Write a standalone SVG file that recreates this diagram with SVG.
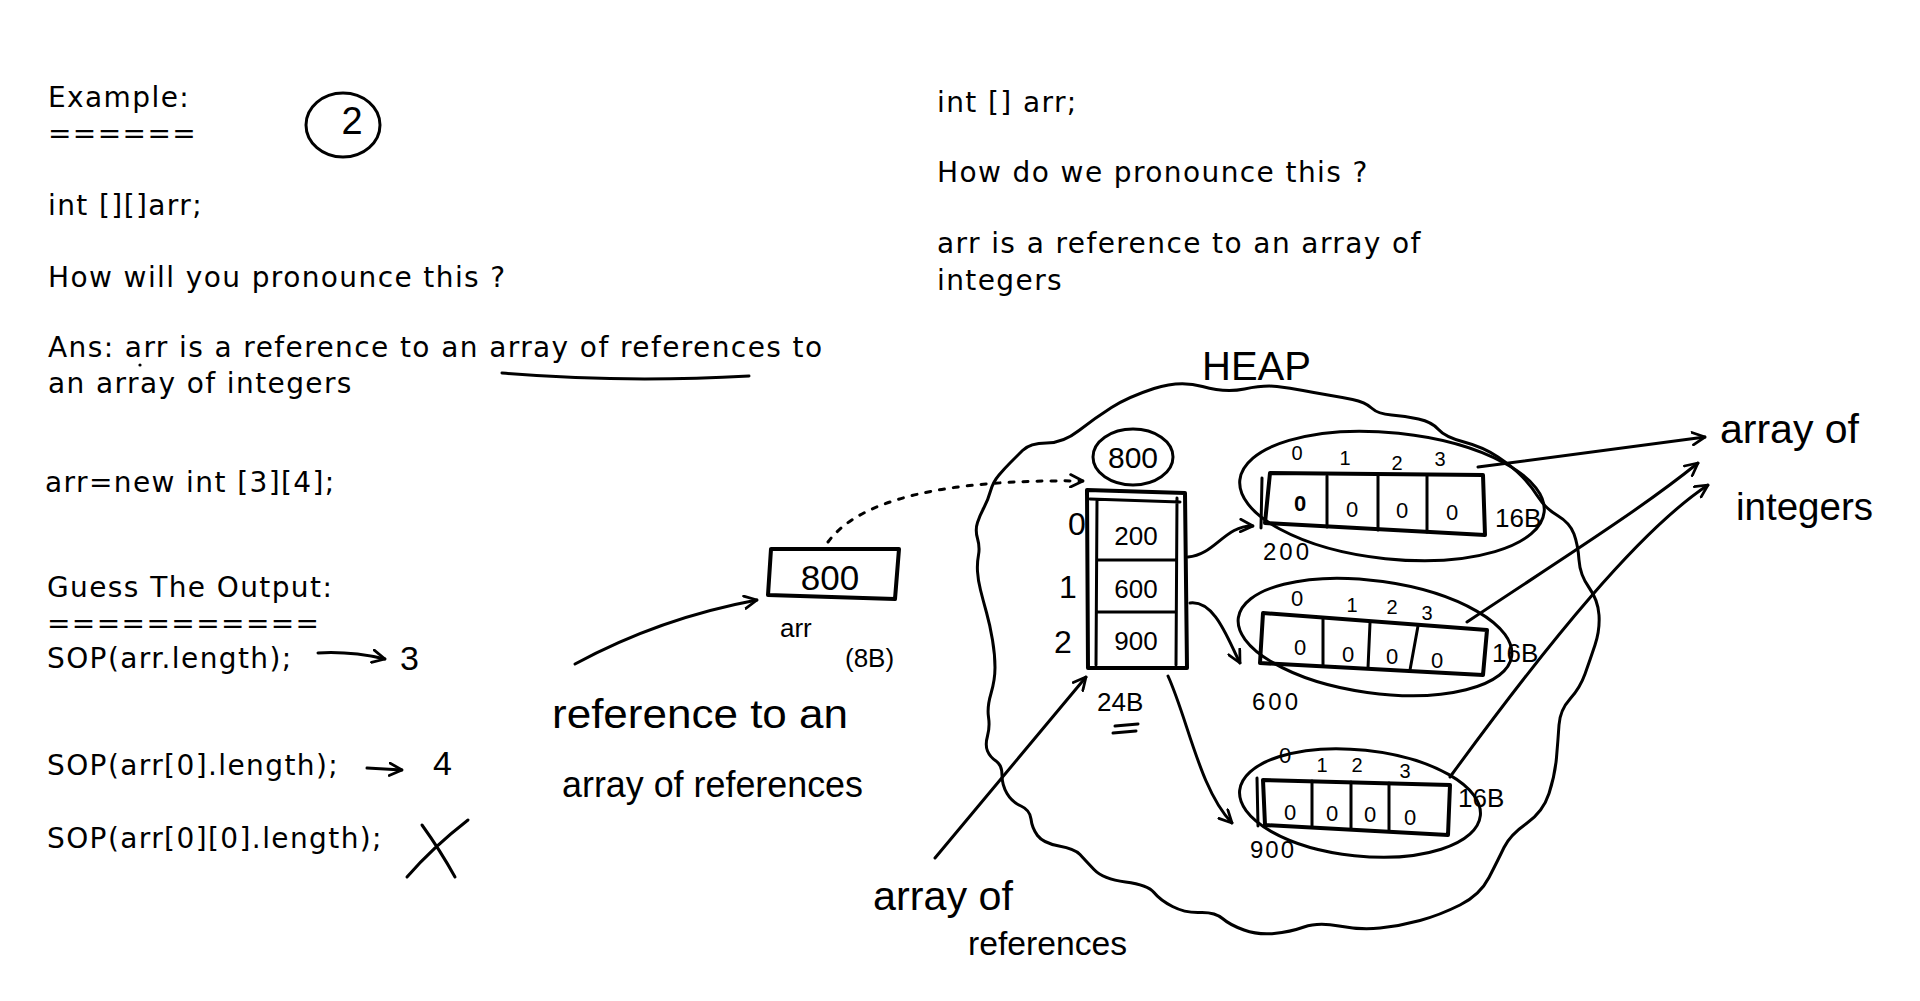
<svg xmlns="http://www.w3.org/2000/svg" width="1920" height="1001" viewBox="0 0 1920 1001">
<style>
.t{font-family:"DejaVu Sans",sans-serif;font-size:28px;letter-spacing:1.4px;fill:#000}
.hw{font-family:"Liberation Sans",sans-serif;fill:#000}
.ln{fill:none;stroke:#000;stroke-width:3;stroke-linecap:round;stroke-linejoin:round}
.bx{fill:none;stroke:#000;stroke-width:4;stroke-linejoin:round}
.ar{fill:none;stroke:#000;stroke-width:3;stroke-linecap:round;marker-end:url(#ah)}
</style>
<defs>
<marker id="ah" viewBox="0 0 12 12" refX="11" refY="6" markerWidth="15" markerHeight="15" markerUnits="userSpaceOnUse" orient="auto">
<path d="M1,1 L11,6 L1,11" fill="none" stroke="#000" stroke-width="2.2" stroke-linecap="round" stroke-linejoin="round"/>
</marker>
</defs>
<rect width="1920" height="1001" fill="#fff"/>

<g id="left-text">
<text class="t" x="48" y="107">Example:</text>
<text class="t" x="48" y="143">======</text>
<text class="t" x="48" y="215">int [][]arr;</text>
<text class="t" x="48" y="287">How will you pronounce this ?</text>
<text class="t" x="48" y="357">Ans: arr is a reference to an array of references to</text>
<text class="t" x="48" y="393">an array of integers</text>
<text class="t" x="45" y="492">arr=new int [3][4];</text>
<text class="t" x="47" y="597">Guess The Output:</text>
<text class="t" x="47" y="633">===========</text>
<text class="t" x="47" y="668">SOP(arr.length);</text>
<text class="t" x="47" y="775">SOP(arr[0].length);</text>
<text class="t" x="47" y="848">SOP(arr[0][0].length);</text>
</g>

<g id="right-text">
<text class="t" x="937" y="112">int [] arr;</text>
<text class="t" x="937" y="182">How do we pronounce this ?</text>
<text class="t" x="937" y="253">arr is a reference to an array of</text>
<text class="t" x="937" y="290">integers</text>
</g>

<g id="annotations">
<ellipse class="ln" cx="343" cy="125" rx="37" ry="32"/>
<text class="hw" x="352" y="134" font-size="38" text-anchor="middle">2</text>
<path class="ln" d="M502,373 Q620,383 749,376"/>
<circle cx="140" cy="365" r="1.6" fill="#000"/>
<text class="hw" x="400" y="670" font-size="34">3</text>
<text class="hw" x="433" y="775" font-size="34">4</text>
<path class="ln" d="M422,825 Q440,850 455,877 M468,820 Q432,848 407,877"/>
</g>

<g id="heap">
<path class="ln" d="M1022.5,450.5 Q1030,443 1046.5,443 Q1063,443 1079,430.5 Q1095,418 1111.5,407.5 Q1128,397 1154,388.5 Q1180,380 1202.5,386.5 Q1225,393 1244.5,389 Q1264,385 1277,386.5 Q1290,388 1303,390.5 Q1316,393 1328,395 Q1340,397 1352.5,399.5 Q1365,402 1371.5,408 Q1378,414 1391.5,415 Q1405,416 1418.5,419 Q1432,422 1438.5,429.5 Q1445,437 1464,442 Q1483,447 1498,457 Q1513,467 1522.5,477 Q1532,487 1538.5,497.5 Q1545,508 1557.5,515.5 Q1570,523 1574,534 Q1578,545 1579,560 Q1580,575 1589,587.5 Q1598,600 1599,615 Q1600,630 1595,645 Q1590,660 1585,674 Q1580,688 1570,699 Q1560,710 1559,725 Q1558,740 1556.5,757.5 Q1555,775 1549,793.5 Q1543,812 1526.5,823.5 Q1510,835 1504,847.5 Q1498,860 1489,877.5 Q1480,895 1460,905 Q1440,915 1420,920.5 Q1400,926 1380,928 Q1360,930 1339,926 Q1318,922 1304,927 Q1290,932 1274,933.5 Q1258,935 1244,930 Q1230,925 1222.5,918.5 Q1215,912 1200,912.5 Q1185,913 1172.5,906.5 Q1160,900 1154,892.5 Q1148,885 1125.5,882 Q1103,879 1094,869.5 Q1085,860 1080,854.5 Q1075,849 1059,846 Q1043,843 1037.5,835.5 Q1032,828 1031,819 Q1030,810 1021,806 Q1012,802 1007,793.5 Q1002,785 1002,775 Q1002,765 996,761 Q990,757 987.5,751 Q985,745 987.5,736 Q990,727 988.5,717 Q987,707 991,693.5 Q995,680 995,667.5 Q995,655 992.5,640 Q990,625 986.5,612.5 Q983,600 980.5,590 Q978,580 977.5,571.5 Q977,563 978.5,555 Q980,547 977.5,538.5 Q975,530 977.5,522.5 Q980,515 984,507.5 Q988,500 990.5,491 Q993,482 999,475 Q1005,468 1010,463 Q1015,458 1022.5,450.5 Z"/>
<text class="hw" x="1202" y="380" font-size="40">HEAP</text>
</g>

<g id="arr-box">
<path class="bx" d="M771,549 L899,549 L895,599 L768,595 Z"/>
<text class="hw" x="830" y="590" font-size="35" text-anchor="middle">800</text>
<text class="hw" x="780" y="637" font-size="26">arr</text>
<text class="hw" x="845" y="667" font-size="26">(8B)</text>
</g>

<g id="label-ref-to-array">
<text class="hw" x="552" y="728" font-size="40" textLength="296" lengthAdjust="spacingAndGlyphs">reference to an</text>
<text class="hw" x="562" y="797" font-size="36" textLength="301" lengthAdjust="spacingAndGlyphs">array of references</text>
</g>

<g id="ref-array">
<ellipse class="ln" cx="1133" cy="457" rx="40" ry="28"/>
<text class="hw" x="1133" y="468" font-size="30" text-anchor="middle">800</text>
<path class="bx" d="M1087,490 L1185,493 L1187,668 L1088,668 Z"/>
<path class="ln" d="M1097,500 L1096,665 M1177,498 L1176,665 M1090,499 L1180,502 M1098,560 L1175,560 M1098,612 L1175,612"/>
<text class="hw" x="1136" y="545" font-size="26" text-anchor="middle">200</text>
<text class="hw" x="1136" y="598" font-size="26" text-anchor="middle">600</text>
<text class="hw" x="1136" y="650" font-size="26" text-anchor="middle">900</text>
<text class="hw" x="1077" y="535" font-size="32" text-anchor="middle">0</text>
<text class="hw" x="1068" y="598" font-size="32" text-anchor="middle">1</text>
<text class="hw" x="1063" y="653" font-size="32" text-anchor="middle">2</text>
<text class="hw" x="1097" y="711" font-size="26">24B</text>
<path class="ln" d="M1115,726 L1138,724 M1113,733 L1136,731"/>
</g>

<g id="int-array-1">
<ellipse class="ln" cx="1392" cy="496" rx="153" ry="63" transform="rotate(6 1392 496)"/>
<path class="bx" d="M1270,473 L1483,475 L1485,535 L1265,523 Z"/>
<path class="ln" d="M1262,478 L1261,528 M1327,476 L1327,527 M1378,476 L1378,530 M1427,476 L1427,532"/>
<text class="hw" x="1300" y="511" font-size="22" font-weight="bold" text-anchor="middle">0</text>
<text class="hw" x="1352" y="517" font-size="22" text-anchor="middle">0</text>
<text class="hw" x="1402" y="518" font-size="22" text-anchor="middle">0</text>
<text class="hw" x="1452" y="520" font-size="22" text-anchor="middle">0</text>
<text class="hw" x="1297" y="460" font-size="20" text-anchor="middle">0</text>
<text class="hw" x="1345" y="465" font-size="20" text-anchor="middle">1</text>
<text class="hw" x="1397" y="470" font-size="20" text-anchor="middle">2</text>
<text class="hw" x="1440" y="466" font-size="20" text-anchor="middle">3</text>
<text class="hw" x="1495" y="527" font-size="26">16B</text>
<text class="hw" x="1263" y="560" font-size="24" letter-spacing="3">200</text>
</g>

<g id="int-array-2">
<ellipse class="ln" cx="1375" cy="637" rx="138" ry="56" transform="rotate(8 1375 637)"/>
<path class="bx" d="M1263,613 L1487,630 L1483,675 L1260,663 Z"/>
<path class="ln" d="M1323,618 L1323,665 M1370,623 L1368,668 M1418,626 L1410,670"/>
<text class="hw" x="1300" y="655" font-size="22" text-anchor="middle">0</text>
<text class="hw" x="1348" y="662" font-size="22" text-anchor="middle">0</text>
<text class="hw" x="1392" y="664" font-size="22" text-anchor="middle">0</text>
<text class="hw" x="1437" y="668" font-size="22" text-anchor="middle">0</text>
<text class="hw" x="1297" y="606" font-size="22" text-anchor="middle">0</text>
<text class="hw" x="1352" y="612" font-size="20" text-anchor="middle">1</text>
<text class="hw" x="1392" y="614" font-size="20" text-anchor="middle">2</text>
<text class="hw" x="1427" y="620" font-size="20" text-anchor="middle">3</text>
<text class="hw" x="1492" y="662" font-size="26">16B</text>
<text class="hw" x="1252" y="710" font-size="24" letter-spacing="3">600</text>
</g>

<g id="int-array-3">
<ellipse class="ln" cx="1360" cy="803" rx="121" ry="53" transform="rotate(6 1360 803)"/>
<path class="bx" d="M1263,780 L1450,785 L1448,835 L1265,825 Z"/>
<path class="ln" d="M1257,778 L1258,826 M1312,781 L1312,826 M1351,782 L1351,828 M1389,783 L1389,830"/>
<text class="hw" x="1290" y="820" font-size="22" text-anchor="middle">0</text>
<text class="hw" x="1332" y="821" font-size="22" text-anchor="middle">0</text>
<text class="hw" x="1370" y="822" font-size="22" text-anchor="middle">0</text>
<text class="hw" x="1410" y="825" font-size="22" text-anchor="middle">0</text>
<text class="hw" x="1285" y="763" font-size="22" text-anchor="middle">0</text>
<text class="hw" x="1322" y="772" font-size="20" text-anchor="middle">1</text>
<text class="hw" x="1357" y="772" font-size="20" text-anchor="middle">2</text>
<text class="hw" x="1405" y="778" font-size="20" text-anchor="middle">3</text>
<text class="hw" x="1458" y="807" font-size="26">16B</text>
<text class="hw" x="1250" y="858" font-size="24" letter-spacing="2">900</text>
</g>

<g id="label-array-of-references">
<text class="hw" x="873" y="910" font-size="40" textLength="140" lengthAdjust="spacingAndGlyphs">array of</text>
<text class="hw" x="968" y="955" font-size="34" textLength="159" lengthAdjust="spacingAndGlyphs">references</text>
</g>

<g id="label-array-of-integers">
<text class="hw" x="1720" y="443" font-size="41" textLength="139" lengthAdjust="spacingAndGlyphs">array of</text>
<text class="hw" x="1736" y="520" font-size="38" textLength="137" lengthAdjust="spacingAndGlyphs">integers</text>
</g>

<g id="connectors">
<path class="ar" d="M318,653 Q350,651 385,659"/>
<path class="ar" d="M367,768 L402,770"/>
<path class="ar" d="M575,664 Q660,618 757,600"/>
<path class="ar" d="M828,542 Q875,478 1083,481" stroke-dasharray="5 9"/>
<path class="ar" d="M935,858 L1086,677"/>
<path class="ar" d="M1188,557 C1215,555 1225,525 1253,526"/>
<path class="ar" d="M1190,603 C1215,600 1228,640 1240,663"/>
<path class="ar" d="M1168,676 C1188,720 1200,790 1232,823"/>
<path class="ar" d="M1478,467 L1705,437"/>
<path class="ar" d="M1467,622 C1560,560 1640,510 1698,463"/>
<path class="ar" d="M1450,777 C1550,640 1640,530 1708,485"/>
</g>
</svg>
